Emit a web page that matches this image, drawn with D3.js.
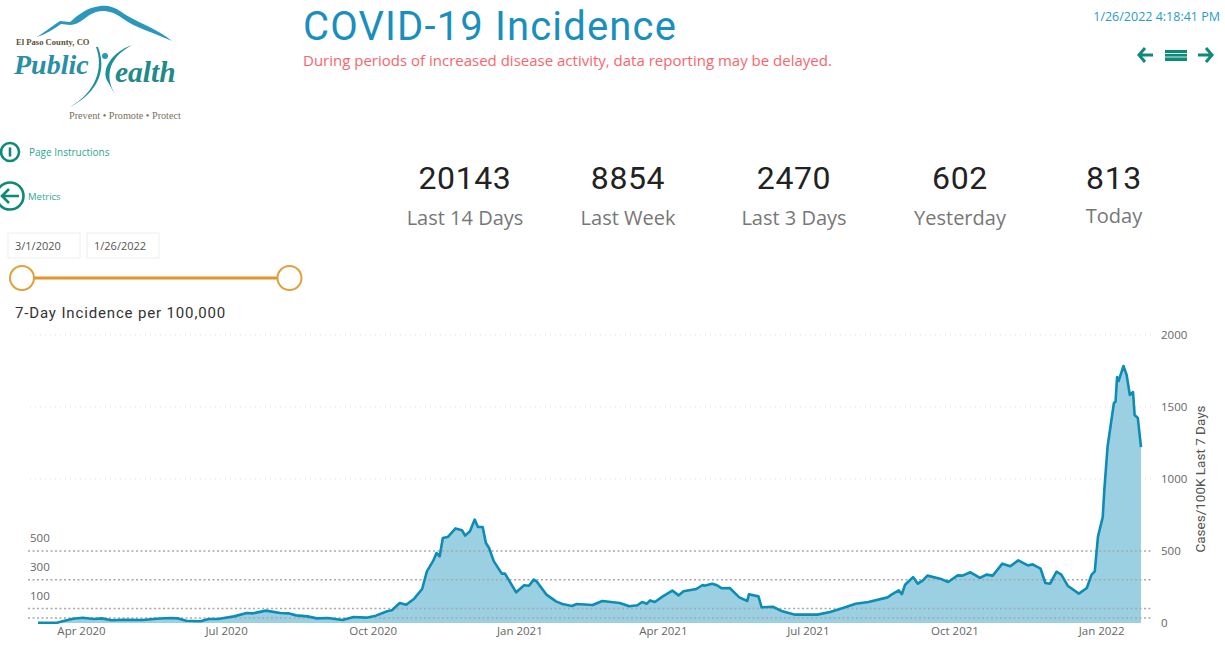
<!DOCTYPE html>
<html>
<head>
<meta charset="utf-8">
<title>COVID-19 Incidence</title>
<script src="https://cdn.jsdelivr.net/npm/d3@7"></script>
<style>
    html, body { margin: 0; padding: 0; background: #fff; overflow: hidden; }
    text { font-family: "Open Sans", sans-serif; }
    .kpi { font-family: Roboto, sans-serif; font-size: 32px; fill: #222; text-anchor: middle; letter-spacing: 0.6px; }
    .kpi-label { font-size: 20px; fill: #777; text-anchor: middle; }
    .axis path, .axis line { display: none; }
    .axis text { font-family: "Open Sans", sans-serif; font-size: 11.5px; fill: #666; }
</style>
</head>
<body>
<div id="chart"></div>
<script>
// days since 3/1/2020 and the 7-day incidence read at each of them
var days = [4, 16, 20, 26, 32, 39, 44, 50, 58, 70, 78, 87, 92, 97, 106, 111, 117, 127, 135, 139,
    147, 156, 161, 166, 173, 179, 186, 195, 202, 210, 216, 223, 226, 231, 235, 240, 245, 248, 252, 254,
    256, 258, 261, 266, 270, 272, 275, 278, 280, 283, 285, 287, 290, 295, 297, 304, 309, 312, 315, 317,
    323, 329, 333, 339, 342, 352, 358, 369, 375, 380, 383, 386, 388, 391, 396, 402, 406, 409, 417, 421,
    422, 427, 430, 433, 438, 444, 449, 450, 456, 458, 465, 471, 479, 493, 501, 509, 517, 525, 537, 540,
    544, 546, 548, 553, 556, 559, 562, 570, 575, 581, 584, 589, 595, 599, 603, 609, 614, 619, 625, 628,
    633, 636, 639, 643, 646, 650, 657, 662, 665, 667, 669, 672, 673, 675, 679, 680, 681, 682, 685, 687,
    689, 691, 692, 694, 696];
var incidence = [2, 2, 14, 30, 37, 28, 32, 19, 23, 21, 30, 35, 32, 16, 12, 28, 28, 46, 69, 67,
    86, 69, 67, 53, 46, 32, 35, 21, 42, 37, 51, 81, 88, 139, 127, 169, 236, 359, 433, 486,
    463, 590, 597, 657, 644, 607, 637, 718, 667, 667, 556, 521, 428, 343, 343, 213, 262, 259, 301, 287,
    197, 150, 132, 118, 132, 125, 153, 139, 116, 123, 146, 134, 157, 146, 185, 225, 192, 220, 236, 264,
    259, 273, 262, 241, 243, 178, 153, 199, 185, 109, 113, 81, 58, 58, 76, 104, 134, 146, 178, 201,
    227, 201, 266, 319, 273, 294, 329, 308, 285, 331, 329, 352, 313, 336, 329, 412, 394, 435, 400, 407,
    377, 278, 273, 356, 336, 259, 204, 243, 336, 359, 600, 736, 924, 1222, 1528, 1535, 1708, 1681, 1785, 1722,
    1583, 1604, 1444, 1424, 1222];

var yTicks = [0, 500, 1000, 1500, 2000];
var gridValues = [1000, 1500, 2000];
var refValues = [35, 100, 300, 500];
var refLabels = [100, 300, 500];
var xTicks = ['2020-04-01', '2020-07-01', '2020-10-01', '2021-01-01', '2021-04-01', '2021-07-01', '2021-10-01', '2022-01-01'];

var kpiValues = ['20143', '8854', '2470', '602', '813'];
var kpiNames = ['Last 14 Days', 'Last Week', 'Last 3 Days', 'Yesterday', 'Today'];

var width = 1225, height = 645;
var teal = '#0f8a78', tealText = '#2ba893', blue = '#1a8fbd';

var svg = d3.select('#chart').append('svg')
    .attr('width', width)
    .attr('height', height)
    .style('display', 'block');

var parseDate = d3.timeParse('%Y-%m-%d');
var startDate = parseDate('2020-03-01');
var series = days.map((d, i) => ({ date: d3.timeDay.offset(startDate, d), value: incidence[i] }));

var x = d3.scaleTime()
    .domain([startDate, parseDate('2022-01-26')])
    .range([31.6, 1141]);
var y = d3.scaleLinear()
    .domain([0, 2000])
    .range([623, 335]);

///////////////////////////////////////////////////////////////
// header
///////////////////////////////////////////////////////////////

var logo = svg.append('g');
logo.append('path')
    .attr('d', 'M37,37 C46,31 54,25 60,21 L70,22 C78,15 86,8 100,6 C108,5 114,7 120,11 C135,22 157,28 172,41 C155,33 135,28 122,18 C112,11 104,10 96,12 C86,15 80,25 70,25 L61,24 C54,29 46,34 37,37 Z')
    .attr('fill', '#2b97bd');
logo.append('path')
    .attr('d', 'M96,47 C104,68 96,92 70,107 C88,98 110,78 98,47 Z')
    .attr('fill', '#1d8f9b');
logo.append('path')
    .attr('d', 'M132,45 C112,52 100,70 108,82 C111,88 114,93 117,97 C106,82 104,60 132,45 Z')
    .attr('fill', '#1d8f9b');
logo.append('circle').attr('cx', 105).attr('cy', 56).attr('r', 3).attr('fill', '#2b97bd');
logo.append('text').attr('x', 16).attr('y', 45)
    .style('font-family', '"Liberation Serif"').style('font-weight', 'bold').style('font-size', '8.6px')
    .attr('fill', '#5d5037').text('El Paso County, CO');
logo.append('text').attr('x', 14).attr('y', 74)
    .style('font-family', '"Liberation Serif"').style('font-weight', 'bold').style('font-style', 'italic').style('font-size', '28px')
    .attr('fill', '#2a8ea6').text('Public');
logo.append('text').attr('x', 115).attr('y', 82)
    .style('font-family', '"Liberation Serif"').style('font-weight', 'bold').style('font-style', 'italic').style('font-size', '29.5px')
    .attr('fill', '#1f8a8a').text('ealth');
logo.append('text').attr('x', 69).attr('y', 119)
    .style('font-family', '"Liberation Serif"').style('font-size', '10.2px')
    .attr('fill', '#7a6f58').text('Prevent • Promote • Protect');

svg.append('text')
    .attr('x', 303).attr('y', 40)
    .style('font-family', 'Roboto, sans-serif')
    .style('font-size', '40px')
    .style('letter-spacing', '1.15px')
    .attr('fill', blue)
    .text('COVID-19 Incidence');
svg.append('text')
    .attr('x', 303).attr('y', 66)
    .style('font-size', '15px')
    .attr('fill', '#f8666c')
    .text('During periods of increased disease activity, data reporting may be delayed.');
svg.append('text')
    .attr('x', 1220).attr('y', 21)
    .attr('text-anchor', 'end')
    .style('font-size', '12.5px')
    .attr('fill', '#2b9bc8')
    .text('1/26/2022 4:18:41 PM');

// nav icons, top right
var nav = svg.append('g').attr('fill', 'none').attr('stroke', teal).attr('stroke-width', 3);
nav.append('path').attr('d', 'M1153,55 H1139 M1145,48 L1139,55 L1145,62');
nav.append('path').attr('d', 'M1198,55 H1212 M1206,48 L1212,55 L1206,62');
nav.append('rect').attr('x', 1165).attr('y', 50).attr('width', 22).attr('height', 11)
    .attr('fill', teal).attr('stroke', 'none');
[53.5, 57].forEach(d => {
    nav.append('line').attr('x1', 1165).attr('x2', 1187).attr('y1', d).attr('y2', d)
        .attr('stroke', '#fff').attr('stroke-width', 0.8);
});

// left hand buttons
var buttons = svg.append('g');
buttons.append('circle').attr('cx', 10).attr('cy', 152).attr('r', 9)
    .attr('fill', 'none').attr('stroke', teal).attr('stroke-width', 2.6);
buttons.append('line').attr('x1', 10).attr('x2', 10).attr('y1', 147.5).attr('y2', 156.5)
    .attr('stroke', teal).attr('stroke-width', 2.6);
buttons.append('text').attr('x', 29).attr('y', 156)
    .style('font-size', '10px').attr('fill', tealText).text('Page Instructions');
buttons.append('circle').attr('cx', 10).attr('cy', 196).attr('r', 13.5)
    .attr('fill', 'none').attr('stroke', teal).attr('stroke-width', 2.6);
buttons.append('path').attr('d', 'M19,196 H2 M9,189 L2,196 L9,203')
    .attr('fill', 'none').attr('stroke', teal).attr('stroke-width', 2.6);
buttons.append('text').attr('x', 28).attr('y', 200)
    .style('font-size', '9.5px').attr('fill', tealText).text('Metrics');

// date slicer
var slicer = svg.append('g');
slicer.selectAll('rect')
    .data(['3/1/2020', '1/26/2022'])
    .enter()
    .append('rect')
    .attr('x', (d, i) => i === 0 ? 8 : 87)
    .attr('y', 233)
    .attr('width', 72)
    .attr('height', 25)
    .attr('fill', '#fff')
    .attr('stroke', '#eeeeee');
slicer.selectAll('text')
    .data(['3/1/2020', '1/26/2022'])
    .enter()
    .append('text')
    .attr('x', (d, i) => i === 0 ? 15 : 94)
    .attr('y', 250)
    .style('font-size', '11px')
    .attr('fill', '#555')
    .text(d => d);
slicer.append('line').attr('x1', 23).attr('x2', 289).attr('y1', 278).attr('y2', 278)
    .attr('stroke', '#e0962c').attr('stroke-width', 3);
[22, 289.5].forEach(d => {
    slicer.append('circle').attr('cx', d).attr('cy', 278).attr('r', 12)
        .attr('fill', '#fff').attr('stroke', '#e0a03c').attr('stroke-width', 2);
});

// KPI cards
var kpiCenters = [465, 628, 794, 960, 1114];
svg.selectAll('.kpi')
    .data(kpiValues)
    .enter()
    .append('text')
    .attr('class', 'kpi')
    .attr('x', (d, i) => kpiCenters[i])
    .attr('y', 189)
    .text(d => d);
svg.selectAll('.kpi-label')
    .data(kpiNames)
    .enter()
    .append('text')
    .attr('class', 'kpi-label')
    .attr('x', (d, i) => kpiCenters[i])
    .attr('y', (d, i) => i === 4 ? 223 : 225)
    .text(d => d);

///////////////////////////////////////////////////////////////
// draw the chart
///////////////////////////////////////////////////////////////

svg.append('text')
    .attr('x', 15).attr('y', 318)
    .style('font-family', 'Roboto, sans-serif')
    .style('font-size', '15px')
    .style('letter-spacing', '0.85px')
    .attr('fill', '#333')
    .text('7-Day Incidence per 100,000');

svg.selectAll('.grid')
    .data(gridValues)
    .enter()
    .append('line')
    .attr('class', 'grid')
    .attr('x1', 30).attr('x2', 1153)
    .attr('y1', d => y(d)).attr('y2', d => y(d))
    .attr('stroke', '#dcdcdc')
    .attr('stroke-dasharray', '1 4');

var area = d3.area()
    .x(d => x(d.date))
    .y0(y(0))
    .y1(d => y(d.value));
var line = d3.line()
    .x(d => x(d.date))
    .y(d => y(d.value));

svg.append('path')
    .datum(series)
    .attr('d', area)
    .attr('fill', '#9bcfe2');

svg.selectAll('.ref')
    .data(refValues)
    .enter()
    .append('line')
    .attr('class', 'ref')
    .attr('x1', 28).attr('x2', 1151)
    .attr('y1', d => y(d)).attr('y2', d => y(d))
    .attr('stroke', '#a9a9a9')
    .attr('stroke-width', 1.5)
    .attr('stroke-dasharray', '2 2.5');

svg.append('path')
    .datum(series)
    .attr('d', line)
    .attr('fill', 'none')
    .attr('stroke', '#0d8cb6')
    .attr('stroke-width', 2.6)
    .attr('stroke-linejoin', 'round');

svg.selectAll('.ref-label')
    .data(refLabels)
    .enter()
    .append('text')
    .attr('class', 'ref-label')
    .attr('x', 30)
    .attr('y', d => y(d) - 9)
    .style('font-size', '11.5px')
    .attr('fill', '#666')
    .text(d => d);

var xAxis = d3.axisBottom()
    .scale(x)
    .tickValues(xTicks.map(parseDate))
    .tickSize(0)
    .tickPadding(4)
    .tickFormat(d3.timeFormat('%b %Y'));
svg.append('g')
    .attr('class', 'axis')
    .attr('transform', 'translate(0,' + 623 + ')')
    .call(xAxis);

var yAxis = d3.axisRight()
    .scale(y)
    .tickValues(yTicks)
    .tickSize(0)
    .tickPadding(0)
    .tickFormat(d3.format('d'));
svg.append('g')
    .attr('class', 'axis')
    .attr('transform', 'translate(1161,0)')
    .call(yAxis);

svg.append('text')
    .attr('transform', 'translate(1205,479) rotate(-90)')
    .attr('text-anchor', 'middle')
    .style('font-family', 'Roboto, sans-serif')
    .style('font-size', '13.5px')
    .attr('fill', '#555')
    .text('Cases/100K Last 7 Days');
</script>
</body>
</html>
